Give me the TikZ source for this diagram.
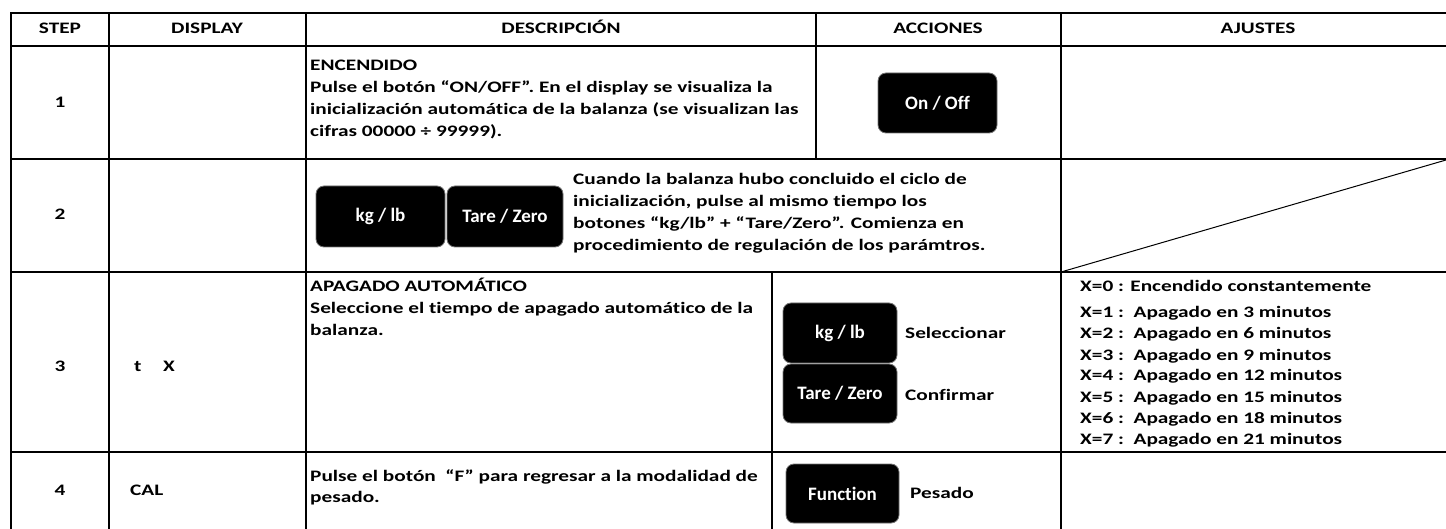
\documentclass[tikz,border=0pt]{standalone}
\usepackage{fontspec}
\setmainfont{Carlito}[FakeStretch=1.33, Ligatures={NoCommon}]
\newfontfamily\btnfont{Carlito}[Ligatures={NoCommon}]
\tikzset{
  grid/.style={line width=2pt, line cap=rect},
  thin/.style={line width=1pt},
  txt/.style={font=\fontsize{16}{22}\selectfont\bfseries, inner sep=0pt, anchor=base west},
  hdr/.style={font=\fontsize{16}{22}\selectfont\bfseries, inner sep=0pt, anchor=base},
  btn/.style={draw=black!55, line width=0.8pt, fill=black, rounded corners=8pt, text=white,
              font=\btnfont\fontsize{19}{23}\selectfont\bfseries, inner sep=0pt},
}
\begin{document}
\begin{tikzpicture}[x=1pt, y=-1pt]
\useasboundingbox (0,0) rectangle (1446,529);
% table grid
\draw[grid] (11,13) -- (1446,13);
\draw[grid] (11,46) -- (1446,46);
\draw[grid] (11,159) -- (1446,159);
\draw[grid] (11,272) -- (1446,272);
\draw[grid] (11,452) -- (1446,452);
\draw[grid] (11,13) -- (11,529);
\draw[grid] (109,13) -- (109,529);
\draw[grid] (306,13) -- (306,529);
\draw[grid] (816,13) -- (816,159);
\draw[grid] (772,272) -- (772,529);
\draw[grid] (1061,13) -- (1061,529);
% diagonal in row 2
\coordinate (dA) at (1061,272);
\coordinate (dB) at (1446,160);
\draw[thin] (dA) -- (dB);
% header
\node[hdr] (hStep) at (60,34) {STEP};
\node[hdr] (hDisp) at (207,34) {DISPLAY};
\node[hdr] (hDesc) at (561,34) {DESCRIPCIÓN};
\node[hdr] (hAcc) at (938,34) {ACCIONES};
\node[hdr] (hAju) at (1258,34) {AJUSTES};
% step numbers
\node[hdr] (s1) at (60,108) {1};
\node[hdr] (s2) at (60,220) {2};
\node[hdr] (s3) at (60,371) {3};
\node[hdr] (s4) at (60,495) {4};
% display
\node[txt] (d3t) at (134,371) {t};
\node[txt] (d3x) at (163,371) {X};
\node[txt] (d4) at (130,495) {CAL};
% row 1
\node[txt] (r1a) at (310,71) {ENCENDIDO};
\node[txt] (r1b) at (310,93) {Pulse el botón “ON/OFF”. En el display se visualiza la};
\node[txt] (r1c) at (310,115) {inicialización automática de la balanza (se visualizan las};
\node[txt] (r1d) at (310,137) {cifras 00000 ÷ 99999).};
\node[btn, minimum width=119pt, minimum height=60pt] (bOn) at (937.5,103) {On / Off};
% row 2
\node[btn, minimum width=129pt, minimum height=61pt] (bKg2) at (380.5,216.5) {kg / lb};
\node[btn, minimum width=116pt, minimum height=61pt] (bTz2) at (505,216.5) {Tare / Zero};
\node[txt] (r2a) at (573,185) {Cuando la balanza hubo concluido el ciclo de};
\node[txt] (r2b) at (573,207) {inicialización, pulse al mismo tiempo los};
\node[txt] (r2c) at (573,229) {botones “kg/lb” + “Tare/Zero”. Comienza en};
\node[txt] (r2d) at (573,251) {procedimiento de regulación de los parámtros.};
% row 3
\node[txt] (r3a) at (310,292) {APAGADO AUTOMÁTICO};
\node[txt] (r3b) at (310,314) {Seleccione el tiempo de apagado automático de la};
\node[txt] (r3c) at (310,335) {balanza.};
\node[btn, minimum width=114pt, minimum height=60pt] (bKg3) at (840,333) {kg / lb};
\node[btn, minimum width=114pt, minimum height=59pt] (bTz3) at (840,393.5) {Tare / Zero};
\node[txt] (l3a) at (905,338) {Seleccionar};
\node[txt] (l3b) at (905,400) {Confirmar};
\node[txt] (aj0) at (1080,292) {X=0 : Encendido constantemente};
\node[txt] (aj1) at (1080,318) {X=1 :\ \ Apagado en 3 minutos};
\node[txt] (aj2) at (1080,339) {X=2 :\ \ Apagado en 6 minutos};
\node[txt] (aj3) at (1080,360) {X=3 :\ \ Apagado en 9 minutos};
\node[txt] (aj4) at (1080,381) {X=4 :\ \ Apagado en 12 minutos};
\node[txt] (aj5) at (1080,402) {X=5 :\ \ Apagado en 15 minutos};
\node[txt] (aj6) at (1080,423) {X=6 :\ \ Apagado en 18 minutos};
\node[txt] (aj7) at (1080,444) {X=7 :\ \ Apagado en 21 minutos};
% row 4
\node[txt] (r4a) at (310,481) {Pulse el botón\ \ “F” para regresar a la modalidad de};
\node[txt] (r4b) at (310,502) {pesado.};
\node[btn, minimum width=113pt, minimum height=59pt] (bFn) at (842.5,493.5) {Function};
\node[txt] (l4) at (910,498) {Pesado};
\end{tikzpicture}
\end{document}
